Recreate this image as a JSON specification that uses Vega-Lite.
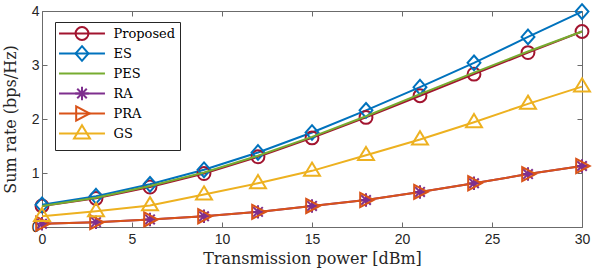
{
  "$schema": "https://vega.github.io/schema/vega-lite/v6.json",
  "autosize": {"type": "none"},
  "padding": {"left": 42, "top": 11, "right": 12, "bottom": 51},
  "width": 540,
  "height": 216,
  "background": "white",
  "view": {"stroke": null},
  "data": {
    "values": [
      {"s": "Proposed", "x": 0, "y": 0.39}, {"s": "Proposed", "x": 3, "y": 0.53}, {"s": "Proposed", "x": 6, "y": 0.74}, {"s": "Proposed", "x": 9, "y": 0.99}, {"s": "Proposed", "x": 12, "y": 1.3}, {"s": "Proposed", "x": 15, "y": 1.65}, {"s": "Proposed", "x": 18, "y": 2.03}, {"s": "Proposed", "x": 21, "y": 2.43}, {"s": "Proposed", "x": 24, "y": 2.83}, {"s": "Proposed", "x": 27, "y": 3.23}, {"s": "Proposed", "x": 30, "y": 3.62},
      {"s": "ES", "x": 0, "y": 0.41}, {"s": "ES", "x": 3, "y": 0.57}, {"s": "ES", "x": 6, "y": 0.79}, {"s": "ES", "x": 9, "y": 1.06}, {"s": "ES", "x": 12, "y": 1.38}, {"s": "ES", "x": 15, "y": 1.75}, {"s": "ES", "x": 18, "y": 2.16}, {"s": "ES", "x": 21, "y": 2.59}, {"s": "ES", "x": 24, "y": 3.04}, {"s": "ES", "x": 27, "y": 3.52}, {"s": "ES", "x": 30, "y": 3.99},
      {"s": "PES", "x": 0, "y": 0.39}, {"s": "PES", "x": 3, "y": 0.54}, {"s": "PES", "x": 6, "y": 0.76}, {"s": "PES", "x": 9, "y": 1.01}, {"s": "PES", "x": 12, "y": 1.32}, {"s": "PES", "x": 15, "y": 1.67}, {"s": "PES", "x": 18, "y": 2.05}, {"s": "PES", "x": 21, "y": 2.46}, {"s": "PES", "x": 24, "y": 2.86}, {"s": "PES", "x": 27, "y": 3.25}, {"s": "PES", "x": 30, "y": 3.62},
      {"s": "RA", "x": 0, "y": 0.06}, {"s": "RA", "x": 3, "y": 0.09}, {"s": "RA", "x": 6, "y": 0.14}, {"s": "RA", "x": 9, "y": 0.2}, {"s": "RA", "x": 12, "y": 0.28}, {"s": "RA", "x": 15, "y": 0.39}, {"s": "RA", "x": 18, "y": 0.5}, {"s": "RA", "x": 21, "y": 0.65}, {"s": "RA", "x": 24, "y": 0.81}, {"s": "RA", "x": 27, "y": 0.98}, {"s": "RA", "x": 30, "y": 1.13},
      {"s": "PRA", "x": 0, "y": 0.06}, {"s": "PRA", "x": 3, "y": 0.09}, {"s": "PRA", "x": 6, "y": 0.14}, {"s": "PRA", "x": 9, "y": 0.2}, {"s": "PRA", "x": 12, "y": 0.28}, {"s": "PRA", "x": 15, "y": 0.39}, {"s": "PRA", "x": 18, "y": 0.5}, {"s": "PRA", "x": 21, "y": 0.65}, {"s": "PRA", "x": 24, "y": 0.81}, {"s": "PRA", "x": 27, "y": 0.98}, {"s": "PRA", "x": 30, "y": 1.13},
      {"s": "GS", "x": 0, "y": 0.2}, {"s": "GS", "x": 3, "y": 0.29}, {"s": "GS", "x": 6, "y": 0.4}, {"s": "GS", "x": 9, "y": 0.6}, {"s": "GS", "x": 12, "y": 0.81}, {"s": "GS", "x": 15, "y": 1.04}, {"s": "GS", "x": 18, "y": 1.33}, {"s": "GS", "x": 21, "y": 1.62}, {"s": "GS", "x": 24, "y": 1.94}, {"s": "GS", "x": 27, "y": 2.28}, {"s": "GS", "x": 30, "y": 2.6}
    ]
  },
  "layer": [
    {
      "transform": [{"filter": "datum.s==='Proposed' || datum.s==='ES'"}],
      "mark": {"type": "line", "strokeWidth": 2},
      "encoding": {
        "x": {"field": "x", "type": "quantitative", "scale": {"domain": [0, 30], "nice": false},
          "axis": {"orient": "bottom", "values": [0, 5, 10, 15, 20, 25, 30], "title": "Transmission power [dBm]", "titleFont": "DejaVu Serif", "titleFontSize": 16, "titleFontWeight": "normal", "titleColor": "#262626", "labelFont": "Liberation Sans", "labelFontSize": 14, "labelColor": "#262626", "tickSize": -5, "tickColor": "#6b6b6b", "domainColor": "#6b6b6b", "grid": false, "labelPadding": 10, "titlePadding": 4, "labelFlush": false}},
        "y": {"field": "y", "type": "quantitative", "scale": {"domain": [0, 4], "nice": false},
          "axis": {"orient": "left", "values": [0, 1, 2, 3, 4], "title": "Sum rate (bps/Hz)", "titleFont": "DejaVu Serif", "titleFontSize": 16, "titleFontWeight": "normal", "titleColor": "#262626", "labelFont": "Liberation Sans", "labelFontSize": 14, "labelColor": "#262626", "tickSize": -5, "tickColor": "#6b6b6b", "domainColor": "#6b6b6b", "grid": false, "labelPadding": 8, "titlePadding": 13, "labelFlush": false}},
        "color": {"field": "s", "type": "nominal",
          "scale": {"domain": ["Proposed", "ES", "PES", "RA", "PRA", "GS"], "range": ["#A2142F", "#0072BD", "#77AC30", "#7E2F8E", "#D95319", "#EDB120"]},
          "legend": {"orient": "none", "legendX": 13, "legendY": 11, "title": null,
            "symbolType": "M-3.75,0L3.75,0M0,-1.35L0,-1.35M0,1.35L0,1.35",
            "symbolSize": 150, "symbolStrokeWidth": 2, "symbolOffset": 15.5,
            "labelFont": "DejaVu Serif", "labelFontSize": 13, "labelColor": "#000000", "labelOffset": 24,
            "rowPadding": -6, "padding": 4, "strokeColor": "#262626", "fillColor": "white"}}
      }
    },
    {
      "transform": [{"filter": "datum.s==='Proposed' || datum.s==='ES'"}],
      "mark": {"type": "point", "filled": false, "strokeWidth": 2, "size": 150, "opacity": 1},
      "encoding": {
        "x": {"field": "x", "type": "quantitative", "axis": {"orient": "top", "values": [0, 5, 10, 15, 20, 25, 30], "labels": false, "title": null, "tickSize": -5, "tickColor": "#6b6b6b", "domainColor": "#6b6b6b", "grid": false}},
        "y": {"field": "y", "type": "quantitative", "axis": {"orient": "right", "values": [0, 1, 2, 3, 4], "labels": false, "title": null, "tickSize": -5, "tickColor": "#6b6b6b", "domainColor": "#6b6b6b", "grid": false}},
        "color": {"field": "s", "type": "nominal", "legend": null,
          "scale": {"domain": ["Proposed", "ES", "PES", "RA", "PRA", "GS"], "range": ["#A2142F", "#0072BD", "#77AC30", "#7E2F8E", "#D95319", "#EDB120"]}},
        "shape": {"field": "s", "type": "nominal", "legend": null,
          "scale": {"domain": ["Proposed", "ES", "PES", "RA", "PRA", "GS"],
            "range": ["M1.05,0A1.05,1.05 0 1,1 -1.05,0A1.05,1.05 0 1,1 1.05,0ZM0,-1.35L0,-1.35M0,1.35L0,1.35", "M0,-1.2L1.05,0L0,1.2L-1.05,0ZM0,-1.35L0,-1.35M0,1.35L0,1.35", "M0,-1.35L0,-1.35M0,1.35L0,1.35", "M-1.1,0L1.1,0M0,-1.1L0,1.1M-0.78,-0.78L0.78,0.78M-0.78,0.78L0.78,-0.78M0,-1.35L0,-1.35M0,1.35L0,1.35", "M-0.95,-1.15L1.25,0L-0.95,1.15ZM0,-1.35L0,-1.35M0,1.35L0,1.35", "M0,-1.35L1.3,0.8L-1.3,0.8ZM0,1.35L0,1.35"]}}
      }
    },
    {
      "transform": [{"filter": "datum.s==='PES'"}],
      "mark": {"type": "line", "strokeWidth": 2},
      "encoding": {
        "x": {"field": "x", "type": "quantitative", "axis": null},
        "y": {"field": "y", "type": "quantitative", "axis": null},
        "color": {"field": "s", "type": "nominal", "legend": null,
          "scale": {"domain": ["Proposed", "ES", "PES", "RA", "PRA", "GS"], "range": ["#A2142F", "#0072BD", "#77AC30", "#7E2F8E", "#D95319", "#EDB120"]}}
      }
    },
    {
      "transform": [{"filter": "datum.s==='RA' || datum.s==='PRA' || datum.s==='GS'"}],
      "mark": {"type": "line", "strokeWidth": 2},
      "encoding": {
        "x": {"field": "x", "type": "quantitative", "axis": null},
        "y": {"field": "y", "type": "quantitative", "axis": null},
        "color": {"field": "s", "type": "nominal", "legend": null,
          "scale": {"domain": ["Proposed", "ES", "PES", "RA", "PRA", "GS"], "range": ["#A2142F", "#0072BD", "#77AC30", "#7E2F8E", "#D95319", "#EDB120"]}}
      }
    },
    {
      "transform": [{"filter": "datum.s==='RA' || datum.s==='PRA' || datum.s==='GS'"}],
      "mark": {"type": "point", "filled": false, "strokeWidth": 2, "size": 150, "opacity": 1},
      "encoding": {
        "x": {"field": "x", "type": "quantitative", "axis": null},
        "y": {"field": "y", "type": "quantitative", "axis": null},
        "color": {"field": "s", "type": "nominal",
          "scale": {"domain": ["Proposed", "ES", "PES", "RA", "PRA", "GS"], "range": ["#A2142F", "#0072BD", "#77AC30", "#7E2F8E", "#D95319", "#EDB120"]},
          "legend": {"orient": "none", "legendX": 13, "legendY": 11, "title": null,
            "symbolSize": 150, "symbolStrokeWidth": 2, "symbolOffset": 15.5,
            "labelFont": "DejaVu Serif", "labelFontSize": 13, "labelOpacity": 0, "labelOffset": 24,
            "rowPadding": -6, "padding": 4, "strokeColor": "transparent", "fillColor": "transparent"}},
        "shape": {"field": "s", "type": "nominal",
          "scale": {"domain": ["Proposed", "ES", "PES", "RA", "PRA", "GS"],
            "range": ["M1.05,0A1.05,1.05 0 1,1 -1.05,0A1.05,1.05 0 1,1 1.05,0ZM0,-1.35L0,-1.35M0,1.35L0,1.35", "M0,-1.2L1.05,0L0,1.2L-1.05,0ZM0,-1.35L0,-1.35M0,1.35L0,1.35", "M0,-1.35L0,-1.35M0,1.35L0,1.35", "M-1.1,0L1.1,0M0,-1.1L0,1.1M-0.78,-0.78L0.78,0.78M-0.78,0.78L0.78,-0.78M0,-1.35L0,-1.35M0,1.35L0,1.35", "M-0.95,-1.15L1.25,0L-0.95,1.15ZM0,-1.35L0,-1.35M0,1.35L0,1.35", "M0,-1.35L1.3,0.8L-1.3,0.8ZM0,1.35L0,1.35"]},
          "legend": {"orient": "none", "legendX": 13, "legendY": 11, "title": null,
            "symbolSize": 150, "symbolStrokeWidth": 2, "symbolOffset": 15.5,
            "labelFont": "DejaVu Serif", "labelFontSize": 13, "labelOpacity": 0, "labelOffset": 24,
            "rowPadding": -6, "padding": 4, "strokeColor": "transparent", "fillColor": "transparent"}}
      }
    }
  ],
  "resolve": {
    "axis": {"x": "independent", "y": "independent"},
    "scale": {"color": "independent", "shape": "independent"}
  }
}
